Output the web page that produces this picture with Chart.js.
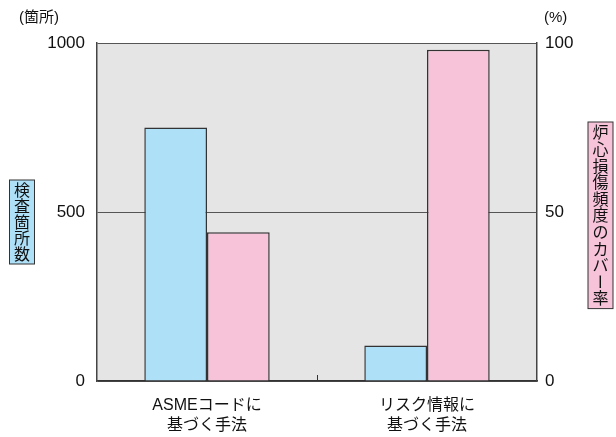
<!DOCTYPE html>
<html>
<head>
<meta charset="utf-8">
<script src="https://cdn.jsdelivr.net/npm/chart.js@4"></script>
<style>
  html, body { margin: 0; padding: 0; background: #fff; }
  #wrap { width: 616px; height: 437px; }
</style>
</head>
<body>
<div id="wrap"><canvas id="myChart" width="616" height="437"></canvas></div>
<script>
// データ
const categories = [["ASMEコードに", "基づく手法"], ["リスク情報に", "基づく手法"]];
const inspectionCounts = [750, 105];   // 検査箇所数 (箇所)
const cdfCoverage = [44, 98];          // 炉心損傷頻度のカバー率 (%)
const leftTicks = [0, 500, 1000];
const rightTicks = [0, 50, 100];

const FONT = "'Liberation Sans', 'Noto Sans CJK JP', sans-serif";

// 背景・縦書きタイトル・単位
const decor = {
  id: "decor",
  beforeDraw(chart) {
    const { ctx, chartArea: a } = chart;
    ctx.save();
    ctx.fillStyle = "#e5e5e5";
    ctx.fillRect(a.left, a.top, a.right - a.left, a.bottom - a.top);
    ctx.restore();
  },
  afterDraw(chart) {
    const { ctx, chartArea: a, scales } = chart;
    ctx.save();
    // x軸中央の小さな目盛
    const mid = (scales.x.getPixelForValue(0) + scales.x.getPixelForValue(1)) / 2;
    ctx.strokeStyle = "#333";
    ctx.lineWidth = 1;
    ctx.beginPath();
    ctx.moveTo(Math.round(mid) + 0.5, a.bottom);
    ctx.lineTo(Math.round(mid) + 0.5, a.bottom - 6);
    ctx.stroke();

    // 単位
    ctx.fillStyle = "#111";
    ctx.font = "15px " + FONT;
    ctx.textBaseline = "middle";
    ctx.textAlign = "left";
    ctx.fillText("(箇所)", 19, 18);
    ctx.fillText("(%)", 544, 18);

    verticalBox(ctx, "検査箇所数", 22, 180, 16, "#aee0f7");
    verticalBox(ctx, "炉心損傷頻度のカバー率", 600.5, 122, 16.6, "#f7c3d9");
    ctx.restore();
  }
};

function verticalBox(ctx, text, cx, top, step, fill) {
  const chars = Array.from(text);
  const h = chars.length * step + 4;
  ctx.fillStyle = fill;
  ctx.fillRect(cx - 12.5, top, 25, h);
  ctx.strokeStyle = "#333";
  ctx.lineWidth = 1;
  ctx.strokeRect(cx - 12.5, top, 25, h);
  ctx.fillStyle = "#111";
  ctx.font = "16px 'Noto Sans CJK JP', sans-serif";
  ctx.textAlign = "center";
  ctx.textBaseline = "middle";
  chars.forEach((c, i) => {
    const y = top + 2 + step * (i + 0.5);
    if (c === "ー") {
      ctx.save();
      ctx.translate(cx, y);
      ctx.rotate(Math.PI / 2);
      ctx.fillText(c, 0, 0);
      ctx.restore();
    } else {
      ctx.fillText(c, cx, y);
    }
  });
}

const config = {
  type: "bar",
  data: {
    labels: categories,
    datasets: [
      {
        label: "検査箇所数",
        data: inspectionCounts,
        yAxisID: "y",
        backgroundColor: "#aee0f7",
        borderColor: "#333",
        borderWidth: 1.5,
      },
      {
        label: "炉心損傷頻度のカバー率",
        data: cdfCoverage,
        yAxisID: "y1",
        backgroundColor: "#f7c3d9",
        borderColor: "#333",
        borderWidth: 1.5,
      },
    ],
  },
  options: {
    responsive: false,
    animation: false,
    layout: { padding: { top: 43, left: 0, right: 0, bottom: 0 } },
    datasets: { bar: { categoryPercentage: 0.57, barPercentage: 1 } },
    plugins: { legend: { display: false }, tooltip: { enabled: false } },
    scales: {
      x: {
        offset: true,
        grid: { display: false },
        border: { display: true, color: "#333", width: 1.5 },
        ticks: { color: "#111", font: { size: 16, family: FONT, lineHeight: 1.25 }, padding: 7, maxRotation: 0 },
        afterFit: (s) => { s.height = 56; },
      },
      y: {
        position: "left",
        min: 0,
        max: 1000,
        afterBuildTicks: (s) => { s.ticks = leftTicks.map((v) => ({ value: v })); },
        grid: { color: "#555", lineWidth: 1, drawTicks: false },
        border: { display: true, color: "#444", width: 1.5 },
        ticks: { color: "#111", font: { size: 17, family: FONT }, padding: 12, callback: (v) => String(v) },
        afterFit: (s) => { s.width = 97; },
      },
      y1: {
        position: "right",
        min: 0,
        max: 100,
        afterBuildTicks: (s) => { s.ticks = rightTicks.map((v) => ({ value: v })); },
        grid: { drawOnChartArea: false, drawTicks: false },
        border: { display: true, color: "#444", width: 1.5 },
        ticks: { color: "#111", font: { size: 17, family: FONT }, padding: 8, callback: (v) => String(v) },
        afterFit: (s) => { s.width = 79; },
      },
    },
  },
  plugins: [decor],
};

const context = document.getElementById("myChart").getContext("2d");
const chart = new Chart(context, config);
</script>
</body>
</html>
